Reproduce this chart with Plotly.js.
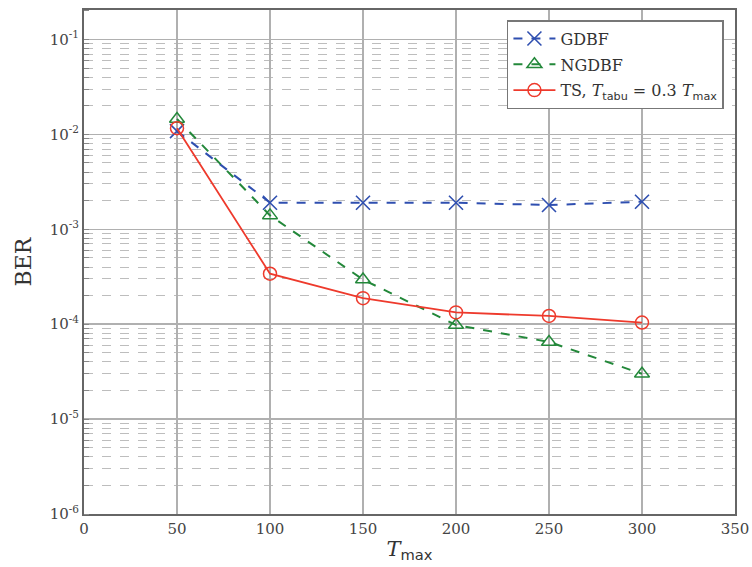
<!DOCTYPE html>
<html>
<head>
<meta charset="utf-8">
<script src="https://cdn.plot.ly/plotly-3.0.1.min.js"></script>
<style>html,body{margin:0;padding:0;background:#fff}#chart{width:752px;height:567px}</style>
</head>
<body>
<div id="chart"></div>
<script>
var tmax = [50, 100, 150, 200, 250, 300];
var berGDBF = [1.08e-2, 1.9e-3, 1.9e-3, 1.9e-3, 1.8e-3, 1.95e-3];
var berNGDBF = [1.45e-2, 1.4e-3, 2.95e-4, 9.8e-5, 6.5e-5, 3.0e-5];
var berTS = [1.16e-2, 3.4e-4, 1.88e-4, 1.33e-4, 1.22e-4, 1.04e-4];
var seriesNames = ['GDBF', 'NGDBF', 'TS, <i>T</i><sub><span style="font-family:DejaVu Sans">tabu</span></sub> = 0.3 <i>T</i><sub><span style="font-family:DejaVu Sans">max</span></sub>'];
var yTickVals = [1e-6, 1e-5, 1e-4, 1e-3, 1e-2, 1e-1];
var yTickText = ['10<sup>-6</sup>', '10<sup>-5</sup>', '10<sup>-4</sup>', '10<sup>-3</sup>', '10<sup>-2</sup>', '10<sup>-1</sup>'];
var xTickVals = [0, 50, 100, 150, 200, 250, 300, 350];

var serif = 'DejaVu Serif, Liberation Serif, serif';

var traces = [
  {x: tmax, y: berGDBF, name: seriesNames[0], mode: 'lines+markers', legendgroup: 'a',
   line: {color: '#2f4fb0', width: 2, dash: 'dash'},
   marker: {symbol: 'x-thin-open', size: 14, line: {color: '#2f4fb0', width: 1.6}}},
  {x: tmax, y: berNGDBF, name: seriesNames[1], mode: 'lines+markers', legendgroup: 'b',
   line: {color: '#23883a', width: 2, dash: 'dash'},
   marker: {symbol: 'triangle-up-open', size: 13, color: '#23883a', line: {color: '#23883a', width: 1.5}}},
  {x: tmax, y: berTS, name: seriesNames[2], mode: 'lines+markers', legendgroup: 'c',
   line: {color: '#ee3a2c', width: 1.8},
   marker: {symbol: 'circle-open', size: 13, color: '#ee3a2c', line: {color: '#ee3a2c', width: 1.5}}}
];

var layout = {
  width: 752, height: 567,
  margin: {l: 84, r: 17, t: 10, b: 53},
  paper_bgcolor: '#fff', plot_bgcolor: '#fff',
  font: {family: serif, size: 15, color: '#333'},
  showlegend: true,
  legend: {x: 0.983, xanchor: 'right', y: 0.98, yanchor: 'top', bgcolor: '#fff',
           bordercolor: '#777', borderwidth: 1.5, tracegroupgap: 2, itemwidth: 42,
           font: {family: serif, size: 16, color: '#333'}},
  xaxis: {range: [0, 350], tickvals: xTickVals, ticks: '', showgrid: true,
          gridcolor: '#b0b0b0', gridwidth: 1.2, zeroline: false,
          showline: true, linecolor: '#666', linewidth: 2, mirror: true,
          tickfont: {family: serif, size: 15, color: '#444'},
          title: {text: '<i>T</i><sub><span style="font-family:DejaVu Sans">max</span></sub>', font: {family: serif, size: 21, color: '#333'}, standoff: 4}},
  yaxis: {type: 'log', range: [-6, -0.69], tickvals: yTickVals, ticktext: yTickText,
          ticks: '', showgrid: true, gridcolor: '#b0b0b0', gridwidth: 1.5, zeroline: false,
          showline: true, linecolor: '#666', linewidth: 2, mirror: true,
          tickfont: {family: serif, size: 15, color: '#444'},
          minor: {dtick: 'D1', showgrid: true, gridcolor: '#bdbdbd', griddash: 'dash', gridwidth: 1,
                  ticks: 'inside', ticklen: 5, tickcolor: '#888'},
          title: {text: 'BER', font: {family: serif, size: 22, color: '#333'}, standoff: 12}}
};

Plotly.newPlot('chart', traces, layout, {displayModeBar: false, staticPlot: true});
</script>
</body>
</html>
